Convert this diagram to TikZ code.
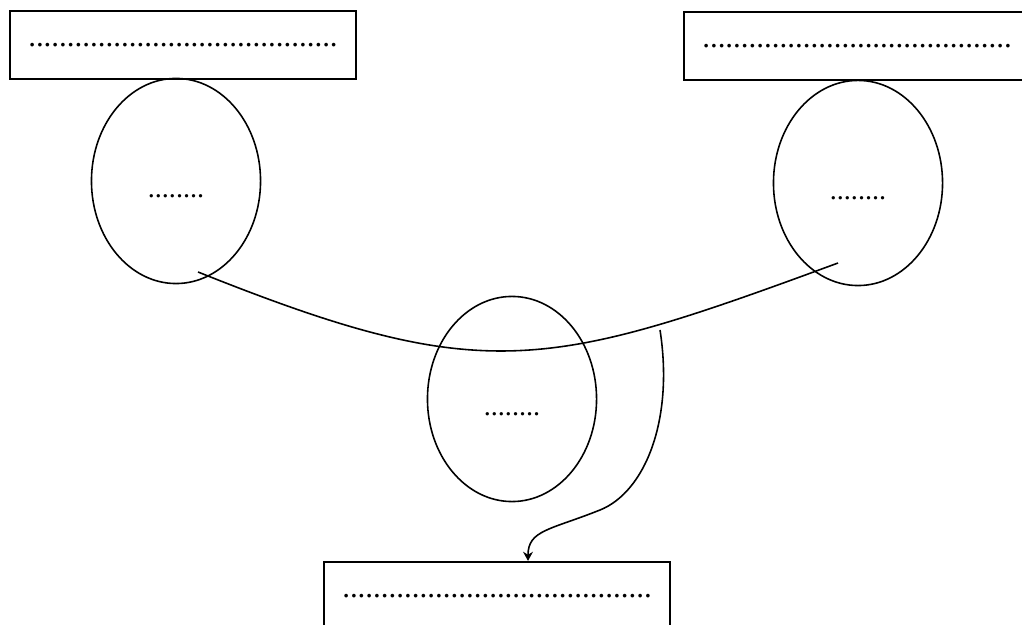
\documentclass[tikz,border=0pt]{standalone}
\usepackage{fontspec}
\setmainfont{Liberation Serif}
\usepackage{tikz}
\usetikzlibrary{positioning, shapes.geometric, arrows, arrows.meta}

\tikzset{
    blank/.style={draw, rectangle, line width=0.6pt, minimum width=3.45cm, minimum height=0.68cm, inner sep=0pt, font=\fontsize{8.8}{10}\selectfont},
    bubble/.style={draw, ellipse, line width=0.45pt, minimum width=1.69cm, minimum height=2.05cm, inner sep=0pt, text height=9.7pt, font=\fontsize{8}{9}\selectfont}
}

\newcommand{\longdots}{........................................}
\newcommand{\shortdots}{........}

\begin{document}
\begin{tikzpicture}[x=0.01cm, y=-0.01cm]
        \useasboundingbox (0,0) rectangle (1022,625);

        \node[blank] (TL) at (183,45) {\longdots};
        \node[blank] (TR) at (857,46) {\longdots};
        \node[blank] (B) at (497,596) {\longdots};

        \node[bubble] (L) at (176,181) {\shortdots};
        \node[bubble] (R) at (858,183) {\shortdots};
        \node[bubble] (M) at (512,399) {\shortdots};

        \coordinate (start) at (198,272);
        \coordinate (stop) at (838,263);
        \coordinate (split) at (660,330);
        \coordinate (tip) at (528,500);

        \draw[line width=0.45pt] (start) .. controls (483,386) and (545,371) .. (stop);
        \draw[line width=0.45pt, -{Stealth[length=2.6pt, width=2.8pt]}] (split) .. controls (674,420) and (645,492) .. (600,510) .. controls (550,530) and (528,530) .. (B.north -| tip);
    \end{tikzpicture}
\end{document}
